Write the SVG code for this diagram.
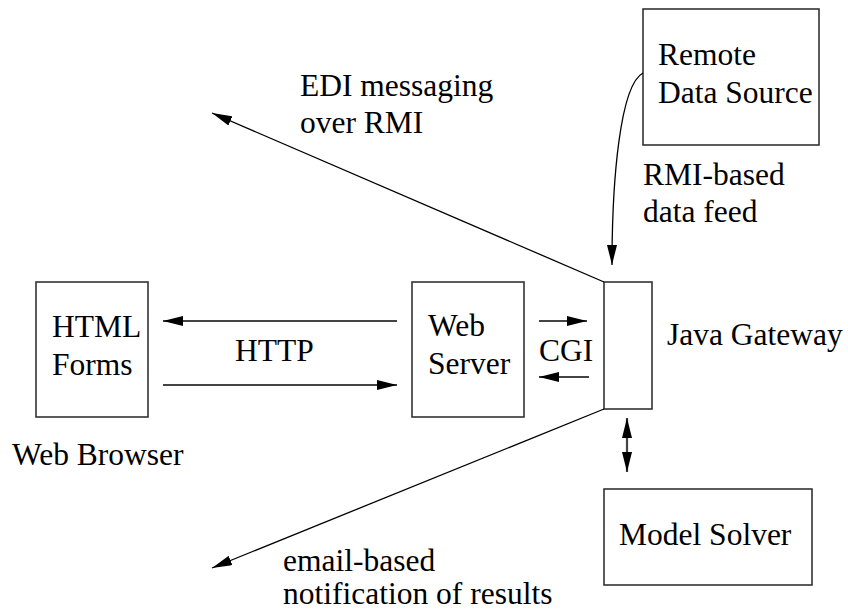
<svg xmlns="http://www.w3.org/2000/svg" width="848" height="611" viewBox="0 0 848 611">
<style>
.box{fill:#fff;stroke:#333;stroke-width:1.6}
.thick{fill:none;stroke:#444;stroke-width:2.2}
.thin{fill:none;stroke:#000;stroke-width:1.3}
</style>
<defs>
<marker id="ah" viewBox="0 0 20 10" refX="20" refY="5" markerWidth="20" markerHeight="10" markerUnits="userSpaceOnUse" orient="auto-start-reverse">
<path d="M0,0 L20,5 L0,10 z" fill="#000"/>
</marker>
</defs>
<rect width="848" height="611" fill="#fff"/>
<g font-family="Times New Roman, Liberation Serif, serif" font-size="31.5" fill="#000">
<g id="remote">
<rect class="box" x="643" y="9" width="176" height="136"/>
<text x="658" y="65">Remote</text>
<text x="658" y="103">Data Source</text>
</g>
<g id="browser">
<rect class="box" x="36" y="282" width="112" height="135"/>
<text x="52" y="337">HTML</text>
<text x="52" y="375">Forms</text>
<text x="12" y="465">Web Browser</text>
</g>
<g id="webserver">
<rect class="box" x="412" y="282" width="112" height="135"/>
<text x="428" y="336">Web</text>
<text x="428" y="374">Server</text>
</g>
<g id="gateway">
<rect class="box" x="604" y="282" width="48" height="127"/>
<text x="667" y="345">Java Gateway</text>
</g>
<g id="solver">
<rect class="box" x="604" y="489" width="208" height="96"/>
<text x="619" y="545">Model Solver</text>
</g>
<g id="connectors">
<line class="thick" x1="397" y1="321" x2="163" y2="321" marker-end="url(#ah)"/>
<line class="thick" x1="163" y1="385" x2="397" y2="385" marker-end="url(#ah)"/>
<line class="thick" x1="539" y1="321" x2="587" y2="321" marker-end="url(#ah)"/>
<line class="thick" x1="589" y1="377" x2="539" y2="377" marker-end="url(#ah)"/>
<line class="thin" x1="604" y1="282" x2="212" y2="113" marker-end="url(#ah)"/>
<line class="thin" x1="604" y1="409" x2="212" y2="568" marker-end="url(#ah)"/>
<line class="thick" x1="627" y1="418" x2="627" y2="472" marker-start="url(#ah)" marker-end="url(#ah)"/>
<path class="thin" d="M643,73 C620,85 612,180 612,265" marker-end="url(#ah)"/>
</g>
<g id="labels">
<text x="300" y="96">EDI messaging</text>
<text x="300" y="133">over RMI</text>
<text x="643" y="185">RMI-based</text>
<text x="643" y="222">data feed</text>
<text x="235" y="361">HTTP</text>
<text x="539" y="361">CGI</text>
<text x="283" y="571">email-based</text>
<text x="283" y="604">notification of results</text>
</g>
</g>
</svg>
